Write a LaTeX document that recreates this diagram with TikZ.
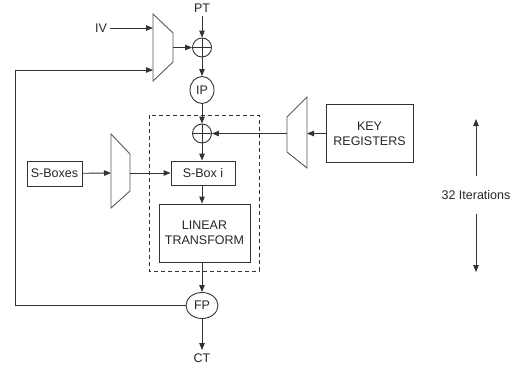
\documentclass[tikz,border=0pt]{standalone}
\usepackage{fontspec}
\setmainfont{Liberation Sans}
\usetikzlibrary{positioning,arrows.meta,shapes.geometric}

\begin{document}
\begin{tikzpicture}[x=1pt,y=-1pt]
	% Define styles
	\tikzset{
		every node/.style={font=\fontsize{12.5}{15}\selectfont, text=black!85},
		line/.style={draw=black!80, line width=0.9pt},
		arrow/.style={line, -{Triangle[length=7pt,width=5.5pt]}},
		box/.style={line, rectangle, inner sep=2pt, align=center},
		perm/.style={line, ellipse, inner sep=0pt, minimum width=24pt, minimum height=27pt},
		xor/.style={line, circle, inner sep=0pt, minimum size=19pt,
			path picture={\draw[black!80, line width=0.9pt]
				(path picture bounding box.north) -- (path picture bounding box.south)
				(path picture bounding box.west) -- (path picture bounding box.east);}},
		mux/.style={draw=black!65, line width=0.9pt, line join=miter}
	}
	\useasboundingbox (0,0) rectangle (526,370);
	
	% Main data path
	\node (pt) at (202,8) {PT};
	\node[xor] (xtop) at (202,47.5) {};
	\node[perm] (ip) at (202,90) {IP};
	\node[xor] (xin) at (202,133.5) {};
	\node[box, minimum width=64pt, minimum height=24pt] (sbi) at (203,173) {S-Box i};
	\node[box, minimum width=91pt, minimum height=58pt] (lt) at (204.5,233) {LINEAR\\TRANSFORM};
	\node[perm, minimum width=32pt, minimum height=26pt] (fp) at (202,305.5) {FP};
	\node (ct) at (202,358) {CT};
	
	% Side inputs
	\node (iv) at (101,28) {IV};
	\node[box, minimum width=55pt, minimum height=25pt] (sbs) at (54.5,173.5) {S-Boxes};
	\node[box, minimum width=87pt, minimum height=58pt] (key) at (369.5,133.5) {KEY\\REGISTERS};
	\node[minimum height=38pt] (iter) at (476,195) {32 Iterations};
	
	% Multiplexers
	\draw[mux] (153,14) -- (173,33) -- (173,62) -- (153,81) -- cycle;
	\coordinate (mtop-in1) at (153,28);
	\coordinate (mtop-in2) at (153,70);
	\coordinate (mtop-out) at (173,47.5);
	
	\draw[mux] (111,134) -- (130,154) -- (130,191) -- (111,208) -- cycle;
	\coordinate (msb-in) at (111,173);
	\coordinate (msb-out) at (130,173);
	
	\draw[mux] (307,97) -- (287,117) -- (287,152) -- (307,168) -- cycle;
	\coordinate (mkey-in) at (307,133.5);
	\coordinate (mkey-out) at (287,133.5);
	
	% Round boundary
	\draw[line, dashed, dash pattern=on 4pt off 3pt] (149,115) rectangle (259,271);
	
	% Connections
	\draw[arrow] (pt) -- (xtop);
	\draw[arrow] (iv) -- (mtop-in1);
	\draw[arrow] (mtop-out) -- (xtop);
	\draw[arrow] (xtop) -- (ip);
	\draw[arrow] (ip) -- (xin);
	\draw[arrow] (xin) -- (sbi.north -| xin);
	\draw[arrow] (sbi.south -| xin) -- (lt.north -| xin);
	\draw[arrow] (lt.south -| xin) -- (fp);
	\draw[arrow] (fp) -- (ct);
	
	\draw[arrow] (sbs) -- (msb-in);
	\draw[arrow] (msb-out) -- (sbi);
	\draw[arrow] (key) -- (mkey-in);
	\draw[arrow] (mkey-out) -- (xin);
	
	% Feedback
	\coordinate (fb) at (15,0);
	\draw[arrow] (fp.west) -- (fp.west -| fb) |- (mtop-in2);
	
	% Iteration count
	\coordinate (itop) at (476,119);
	\coordinate (ibot) at (476,272);
	\draw[arrow] (iter.north) -- (itop);
	\draw[arrow] (iter.south) -- (ibot);
\end{tikzpicture}
\end{document}
